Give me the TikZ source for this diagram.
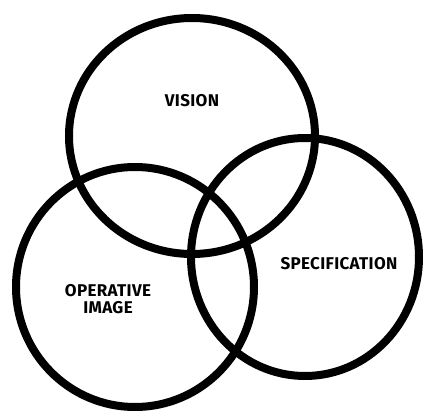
\documentclass[tikz,border=0pt]{standalone}
\usepackage{fontspec}
\setmainfont{Fira Sans}[LetterSpace=2]
\usetikzlibrary{positioning}
\tikzset{
  ring/.style={draw=black, line width=8pt},
  lbl/.style={font=\bfseries\fontsize{17}{16.5}\selectfont, align=center, inner sep=0pt}
}
\begin{document}
\begin{tikzpicture}[x=1pt, y=-1pt]
\useasboundingbox (0,0) rectangle (424,412);
\draw[ring] (192,136) ellipse [x radius=123, y radius=118];
\draw[ring] (135,287) ellipse [x radius=119, y radius=120];
\draw[ring] (305,257) ellipse [x radius=114, y radius=119];
\node[lbl] (vis) at (192,101) {VISION};
\node[lbl] (spec) at (339,264) {SPECIFICATION};
\node[lbl] (opim) at (108,299) {OPERATIVE\\IMAGE};
\end{tikzpicture}
\end{document}
